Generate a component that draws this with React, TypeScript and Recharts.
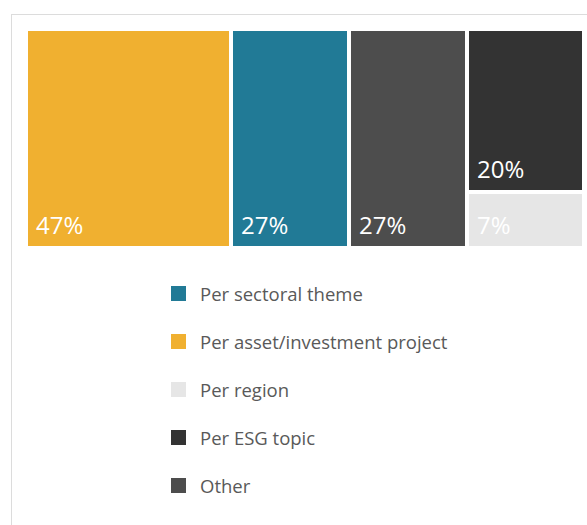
import React from 'react';
import { Treemap } from 'recharts';

// Share of respondents per approach (multiple answers, so the total exceeds 100%)
const categories = ['Per asset/investment project', 'Per sectoral theme', 'Other', 'Per ESG topic', 'Per region'];
const shares = [47, 27, 27, 20, 7];
const colors = ['#F0B030', '#217A96', '#4D4D4D', '#333333', '#E6E6E6'];
const legendOrder = ['Per sectoral theme', 'Per asset/investment project', 'Per region', 'Per ESG topic', 'Other'];

const treeData = categories.map((name, i) => ({ name, value: shares[i], fill: colors[i] }));

const FONT = '"Open Sans", "Noto Sans", sans-serif';

const Cell = (props: any) => {
  const { x, y, width, height, depth, value, fill } = props;
  if (!depth) return null;
  return (
    <g>
      <rect x={x + 2} y={y + 2} width={width - 4} height={height - 4} fill={fill} stroke="none" />
      <text
        x={x + 10}
        y={y + height - 14.5}
        fill="#ffffff"
        fontSize={24}
        fontFamily={FONT}
        stroke="none"
      >
        {`${value}%`}
      </text>
    </g>
  );
};

const App: React.FC = () => {
  return (
    <div style={{ position: 'absolute', left: 0, top: 0, width: 587, height: 525, overflow: 'hidden', background: '#fff' }}>
      {/* outer frame, right/bottom edges fall outside the view */}
      <div
        style={{
          position: 'absolute',
          left: 11,
          top: 14,
          width: 600,
          height: 600,
          border: '1.5px solid #dcdcdc',
        }}
      />

      <div style={{ position: 'absolute', left: 26, top: 29 }}>
        <Treemap
          width={558}
          height={219}
          data={treeData}
          dataKey="value"
          aspectRatio={1}
          isAnimationActive={false}
          content={<Cell />}
        />
      </div>

      <div style={{ position: 'absolute', left: 171, top: 269.5, fontFamily: FONT }}>
        {legendOrder.map((name) => {
          const i = categories.indexOf(name);
          return (
            <div key={name} style={{ display: 'flex', alignItems: 'center', height: 48 }}>
              <div style={{ width: 15, height: 15, background: colors[i], marginRight: 14 }} />
              <span style={{ fontSize: 18.5, lineHeight: '24px', color: '#595959' }}>{name}</span>
            </div>
          );
        })}
      </div>
    </div>
  );
};

export default App;
